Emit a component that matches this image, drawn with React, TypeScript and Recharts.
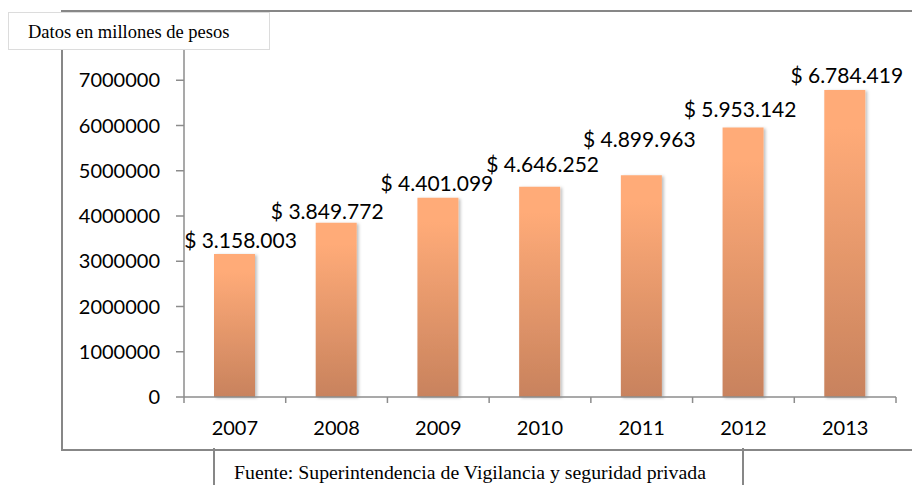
import React from 'react';
import { BarChart, Bar, XAxis, YAxis, LabelList } from 'recharts';

const years = ['2007', '2008', '2009', '2010', '2011', '2012', '2013'];
const values = [3158003, 3849772, 4401099, 4646252, 4899963, 5953142, 6784419];
const yTicks = [0, 1000000, 2000000, 3000000, 4000000, 5000000, 6000000, 7000000, 8000000];

const data = years.map((year, i) => ({ year, value: values[i] }));

const W = 912;
const H = 485;
const margin = { top: 35, right: 16, bottom: 48, left: 0 };
const yAxisWidth = 184;
const band = (W - margin.left - yAxisWidth - margin.right) / years.length;

const frameColor = '#878787';
const axisColor = '#8c8c8c';
const calibri = 'Lato, "Open Sans", sans-serif';

// the data labels were dragged by hand in the original, so each one gets a small nudge
const labelDx = [6, -9, -1, 3, -2, -3, 2];
const labelGap = [14, 11, 14, 22, 36, 18, 15];

// pesos format: $ 3.158.003
const fmt = (v: number) => '$ ' + String(v).replace(/\B(?=(\d{3})+(?!\d))/g, '.');

// Excel style: ticks sit on the category edges, not the centers
const XTick = (props: any) => {
  const { x, y, payload, index } = props;
  const left = x - band / 2;
  const right = x + band / 2;
  return (
    <g>
      <line x1={left} y1={y - 8} x2={left} y2={y - 2} stroke={axisColor} strokeWidth={1.5} />
      {index === years.length - 1 && (
        <line x1={right} y1={y - 8} x2={right} y2={y - 2} stroke={axisColor} strokeWidth={1.5} />
      )}
      <text x={x} y={y + 30} textAnchor="middle" fontFamily={calibri} fontSize={20} fill="#000">
        {payload.value}
      </text>
    </g>
  );
};

// plain text label so it never wraps
const ValueLabel = (props: any) => {
  const { x, y, width, value, index } = props;
  const dx = labelDx[index] ?? 0;
  const gap = labelGap[index] ?? 14;
  return (
    <text
      x={Number(x) + Number(width) / 2 + dx}
      y={Number(y) - gap + 7.5}
      textAnchor="middle"
      fontFamily={calibri}
      fontSize={21}
      fill="#000"
    >
      {fmt(Number(value))}
    </text>
  );
};

export default function App() {
  return (
    <div style={{ position: 'absolute', left: 0, top: 0, width: W, height: H, background: '#fff', overflow: 'hidden' }}>
      {/* outer frame */}
      <div
        style={{
          position: 'absolute',
          left: 61,
          top: 10,
          width: 900,
          height: 437,
          border: `2px solid ${frameColor}`,
          borderRight: 'none',
        }}
      />
      {/* source box */}
      <div
        style={{
          position: 'absolute',
          left: 213,
          top: 448,
          width: 527,
          height: 60,
          borderLeft: `2px solid ${frameColor}`,
          borderRight: `2px solid ${frameColor}`,
        }}
      />
      <div
        style={{
          position: 'absolute',
          left: 234,
          top: 461,
          fontFamily: '"Liberation Serif", serif',
          fontSize: 19.8,
          color: '#000',
          whiteSpace: 'nowrap',
        }}
      >
        Fuente: Superintendencia de Vigilancia y seguridad privada
      </div>

      <div style={{ position: 'absolute', left: 0, top: 0 }}>
        <BarChart width={W} height={H} data={data} margin={margin} barSize={41}>
          <defs>
            <linearGradient id="barFill" x1="0" y1="0" x2="0" y2="1">
              <stop offset="0%" stopColor="#ffab78" />
              <stop offset="12%" stopColor="#ffab78" />
              <stop offset="100%" stopColor="#c8825d" />
            </linearGradient>
            <filter id="barShadow" x="-20%" y="-5%" width="140%" height="110%">
              <feDropShadow dx="2" dy="1" stdDeviation="1.5" floodColor="#000" floodOpacity="0.25" />
            </filter>
          </defs>
          <XAxis
            dataKey="year"
            height={40}
            stroke={axisColor}
            strokeWidth={1.5}
            tickLine={false}
            tick={<XTick />}
            interval={0}
          />
          <YAxis
            width={yAxisWidth}
            domain={[0, 8000000]}
            ticks={yTicks}
            interval={0}
            stroke={axisColor}
            strokeWidth={1.5}
            tickSize={8}
            tickMargin={16}
            // top label sits under the note box in the original
            tickFormatter={(v: number) => (v === 8000000 ? '' : String(v))}
            tick={{ fontFamily: calibri, fontSize: 20, fill: '#000' }}
          />
          <Bar dataKey="value" fill="url(#barFill)" filter="url(#barShadow)" isAnimationActive={false}>
            <LabelList dataKey="value" content={<ValueLabel />} />
          </Bar>
        </BarChart>
      </div>

      {/* unit note box */}
      <div
        style={{
          position: 'absolute',
          left: 8,
          top: 12,
          width: 262,
          height: 38,
          background: '#fff',
          border: '1px solid #dcdcdc',
          boxSizing: 'border-box',
          fontFamily: '"Liberation Serif", serif',
          fontSize: 18.5,
          color: '#000',
          paddingLeft: 19,
          lineHeight: '38px',
          whiteSpace: 'nowrap',
        }}
      >
        Datos en millones de pesos
      </div>
    </div>
  );
}
